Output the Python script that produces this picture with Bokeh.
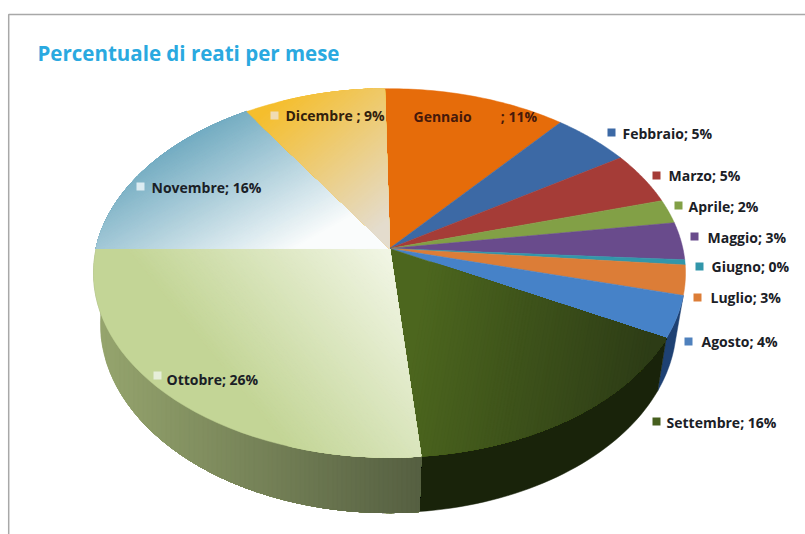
import numpy as np
from bokeh.plotting import figure
from bokeh.models import Range1d, ColumnDataSource
from bokeh.core.properties import value
from bokeh.embed import file_html
from bokeh.resources import INLINE

months = ["Gennaio", "Febbraio", "Marzo", "Aprile", "Maggio", "Giugno", "Luglio",
          "Agosto", "Settembre", "Ottobre", "Novembre", "Dicembre"]
shares = [11.4, 4.9, 4.6, 2.1, 3.3, 0.45, 2.6, 3.7, 15.8, 26.5, 15.9, 8.8]
label_pct = ["11%", "5%", "5%", "2%", "3%", "0%", "3%", "4%", "16%", "26%", "16%", "9%"]
title = "Percentuale di reati per mese"

# ---- styling and layout -------------------------------------------------
W, H = 805, 534
START = -1.1
K = 0.1327
TOP = dict(cx=389.0, cy=248.0, a=293.4, b=181.0)
BOT = dict(cx=388.0, cy=298.0, a=285.5, b=185.7)
BANDS = 70

flat = {"Gennaio": (230, 108, 10), "Febbraio": (60, 105, 165), "Marzo": (165, 60, 55),
        "Aprile": (130, 160, 70), "Maggio": (105, 75, 140), "Giugno": (50, 150, 170),
        "Luglio": (220, 125, 55), "Agosto": (70, 130, 200)}
# p0, p1, c0, c1 : linear gradients on the top face
grad = {"Settembre": ((420, 300), (650, 340), (76, 102, 30), (45, 60, 22)),
        "Ottobre": ((230, 380), (390, 250), (195, 213, 150), (242, 246, 230)),
        "Novembre": ((205, 100), (290, 250), (95, 160, 185), (250, 252, 252)),
        "Dicembre": ((270, 105), (375, 230), (245, 190, 45), (228, 220, 205))}
side_grad = {"Agosto": ((0, 0), (1, 0), (30, 65, 115), (30, 65, 115)),
             "Settembre": ((0, 0), (1, 0), (25, 35, 10), (25, 35, 10)),
             "Ottobre": ((96, 0), (420, 0), (150, 165, 110), (85, 95, 65))}
marker_col = {"Febbraio": "#3c69a5", "Marzo": "#a53c37", "Aprile": "#82a046", "Maggio": "#694b8c",
              "Giugno": "#3296aa", "Luglio": "#dc7d37", "Agosto": "#4f81bd", "Settembre": "#465f1e",
              "Ottobre": "#e6eed8", "Novembre": "#dcecf2", "Dicembre": "#f0dcb4"}
label_pos = {"Gennaio": (413, 116), "Febbraio": (622, 133), "Marzo": (668, 175), "Aprile": (688, 206),
             "Maggio": (707, 237), "Giugno": (711, 266), "Luglio": (710, 297), "Agosto": (701, 341),
             "Settembre": (666, 422), "Ottobre": (166, 379), "Novembre": (151, 187), "Dicembre": (285, 115)}
marker_pos = {"Febbraio": (611, 132), "Marzo": (656, 175), "Aprile": (678, 205), "Maggio": (694, 236),
              "Giugno": (699, 266), "Luglio": (697, 297), "Agosto": (688, 341), "Settembre": (656, 421),
              "Ottobre": (157, 375), "Novembre": (140, 186), "Dicembre": (274, 115)}
sep = {"Gennaio": "\u00a0" * 8, "Dicembre": " "}


def project(theta_deg, r, g):
    t = np.radians(theta_deg)
    u, v = r * np.sin(t), r * np.cos(t)
    w = 1 + K * v
    return g["cx"] + g["a"] * u / w, g["cy"] - g["b"] * v / w


def hexc(c):
    return "#%02x%02x%02x" % tuple(int(round(x)) for x in c)


def clip(xs, ys, p0, d, t0):
    """Keep the part of a polygon where the gradient parameter is >= t0."""
    n2 = d[0] ** 2 + d[1] ** 2
    ts = [((x - p0[0]) * d[0] + (y - p0[1]) * d[1]) / n2 for x, y in zip(xs, ys)]
    ox, oy = [], []
    for i in range(len(xs)):
        j = (i + 1) % len(xs)
        a, b = ts[i] >= t0, ts[j] >= t0
        if a:
            ox.append(xs[i]); oy.append(ys[i])
        if a != b:
            f = (t0 - ts[i]) / (ts[j] - ts[i])
            ox.append(xs[i] + f * (xs[j] - xs[i])); oy.append(ys[i] + f * (ys[j] - ys[i]))
    return ox, oy


def add_bands(xs, ys, spec, out):
    p0, p1, c0, c1 = spec
    d = (p1[0] - p0[0], p1[1] - p0[1])
    out[0].append(list(xs)); out[1].append(list(ys)); out[2].append(hexc(c0))
    if c0 == c1:
        return
    for b in range(1, BANDS + 1):
        t = b / BANDS
        ox, oy = clip(list(xs), list(ys), p0, d, t)
        if len(ox) >= 3:
            out[0].append(ox); out[1].append(oy)
            out[2].append(hexc([a + (q - a) * t for a, q in zip(c0, c1)]))


total = sum(shares)
edges = START + np.concatenate([[0], np.cumsum(shares)]) / total * 360

top = ([], [], [])
side = ([], [], [])
for i, m in enumerate(months):
    th = np.linspace(edges[i], edges[i + 1], 40)
    xs, ys = project(th, 1.0, TOP)
    xs, ys = np.r_[TOP["cx"], xs], np.r_[TOP["cy"], ys]
    if m in flat:
        top[0].append(list(xs)); top[1].append(list(ys)); top[2].append(hexc(flat[m]))
    else:
        add_bands(xs, ys, grad[m], top)
    if m in side_grad:
        xo, yo = project(th, 1.0, BOT)
        xi, yi = project(th[::-1], 1.0, TOP)
        add_bands(np.r_[xo, xi], np.r_[yo, yi], side_grad[m], side)

p = figure(width=W, height=H, x_range=Range1d(0, W), y_range=Range1d(H, 0),
           output_backend="svg", toolbar_location=None, min_border=0)
p.axis.visible = False
p.grid.visible = False
p.outline_line_color = None
p.background_fill_color = "white"
p.border_fill_color = "white"

# frame of the original chart area
p.line([8.2, 8.2, W], [H, 14, 14], line_color="#a8a8a8", line_width=1.5)

for data in (side, top):
    p.patches("x", "y", source=ColumnDataSource(dict(x=data[0], y=data[1], c=data[2])),
              fill_color="c", line_color="c", line_width=0.5)

mk = [m for m in months if m in marker_pos]
p.scatter([marker_pos[m][0] for m in mk], [marker_pos[m][1] for m in mk], marker="square", size=8,
          fill_color=[marker_col[m] for m in mk], line_color=None)

texts = [m + sep.get(m, "") + "; " + q for m, q in zip(months, label_pct)]
colors = ["#46190a" if m == "Gennaio" else "#32200c" if m == "Dicembre" else "#1a2026" for m in months]
p.text([label_pos[m][0] for m in months], [label_pos[m][1] for m in months], text=texts,
       text_font=value("Open Sans"), text_font_style="bold", text_font_size="14px",
       text_baseline="middle", text_align="left", text_color=colors)
p.text([37], [52], text=[title], text_font=value("Open Sans"), text_font_style="bold",
       text_font_size="20.5px", text_baseline="middle", text_align="left", text_color="#2aa9e0")

open("out.html", "w").write(file_html(p, INLINE))
